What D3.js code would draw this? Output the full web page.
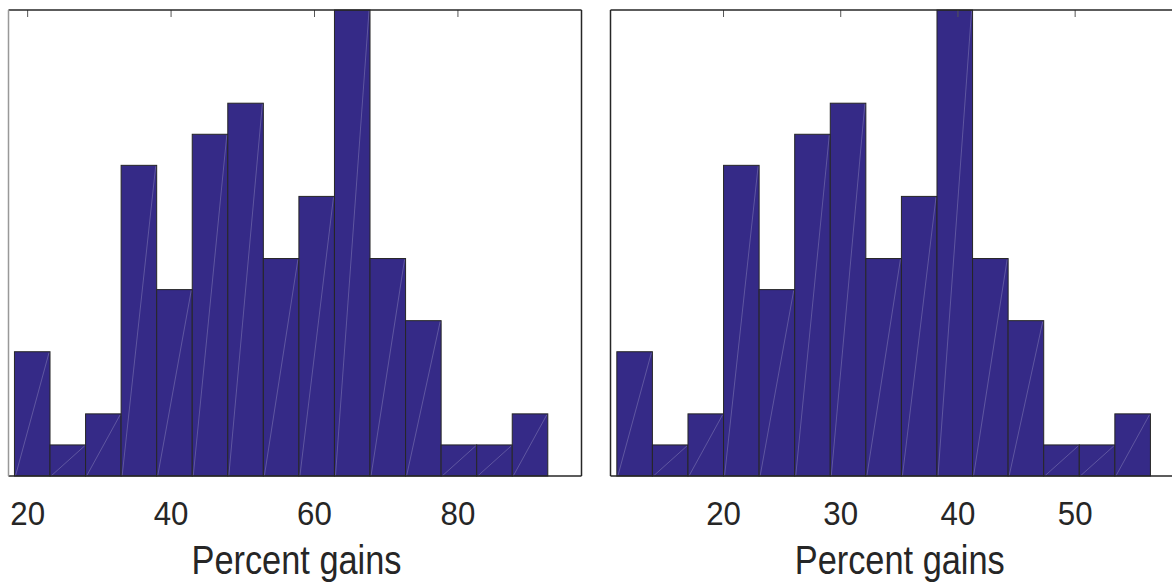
<!DOCTYPE html>
<html>
<head>
<meta charset="utf-8">
<script src="https://cdn.jsdelivr.net/npm/d3@7"></script>
<style>
  body { margin: 0; background: #fff; }
  svg { display: block; }
  text { font-family: "Liberation Sans", Arial, sans-serif; fill: #262626; }
</style>
</head>
<body>
<svg id="chart" width="1172" height="582"></svg>
<script>
// histogram counts (same shape in both panels)
const counts = [4, 1, 2, 10, 6, 11, 12, 7, 9, 15, 7, 5, 1, 1, 2];

// left panel: bin edges and ticks
const leftBinStart = 18.23;
const leftBinWidth = 4.958;
const leftDomain = [17.4, 97.3];
const leftTicks = [20, 40, 60, 80];

// right panel
const rightBinStart = 10.94;
const rightBinWidth = 3.035;
const rightDomain = [10.4, 59.5];
const rightTicks = [20, 30, 40, 50];

const xLabel = "Percent gains";

const svg = d3.select("#chart");
const plotTop = 10, plotBottom = 476;

function histPanel(x0, x1, domain, binStart, binWidth, ticks, leftColor) {
    const x = d3.scaleLinear().domain(domain).range([x0, x1]);
    const y = d3.scaleLinear().domain([0, 15]).range([plotBottom, plotTop]);
    const g = svg.append("g");

    const bins = counts.map(function(c, i) {
        return { a: binStart + i * binWidth, b: binStart + (i + 1) * binWidth, c: c };
    });

    // bottom ticks (sit under the bars)
    const xb = g.append("g")
        .attr("transform", "translate(0," + plotBottom + ")")
        .call(d3.axisBottom(x).tickValues(ticks).tickSizeInner(-7).tickSizeOuter(0).tickPadding(25));
    xb.select(".domain").remove();
    xb.selectAll("line").attr("stroke", "#262626");
    xb.selectAll("text").style("font-size", "34px").attr("fill", "#262626")
        .style("font-family", "'Liberation Sans', Arial, sans-serif")
        .attr("transform", "scale(0.92,1)");

    g.selectAll("rect.bar").data(bins).enter()
        .append("rect")
        .attr("class", "bar")
        .attr("x", d => x(d.a))
        .attr("y", d => y(d.c))
        .attr("width", d => x(d.b) - x(d.a))
        .attr("height", d => y(0) - y(d.c))
        .attr("fill", "#352a87")
        .attr("stroke", "#262626")
        .attr("stroke-width", 1);

    // faint diagonal seams in each bar
    g.selectAll("line.seam").data(bins).enter()
        .append("line")
        .attr("class", "seam")
        .attr("x1", d => x(d.a) + 1)
        .attr("y1", y(0))
        .attr("x2", d => x(d.b) - 1)
        .attr("y2", d => y(d.c) + 1)
        .attr("stroke", "rgba(255,255,255,0.3)")
        .attr("stroke-width", 0.7);

    // top ticks pointing inward
    const xt = g.append("g")
        .attr("transform", "translate(0," + plotTop + ")")
        .call(d3.axisTop(x).tickValues(ticks).tickSizeInner(-7).tickSizeOuter(0).tickFormat(""));
    xt.select(".domain").remove();
    xt.selectAll("line").attr("stroke", "#555");

    // box
    g.append("line").attr("x1", x0).attr("x2", x1).attr("y1", plotTop).attr("y2", plotTop)
        .attr("stroke", "#262626").attr("stroke-width", 1.5);
    g.append("line").attr("x1", x0).attr("x2", x1).attr("y1", plotBottom).attr("y2", plotBottom)
        .attr("stroke", "#262626").attr("stroke-width", 1.5);
    g.append("line").attr("x1", x0).attr("x2", x0).attr("y1", plotTop).attr("y2", plotBottom)
        .attr("stroke", leftColor).attr("stroke-width", 1.5);
    g.append("line").attr("x1", x1).attr("x2", x1).attr("y1", plotTop).attr("y2", plotBottom)
        .attr("stroke", "#262626").attr("stroke-width", 1.5);

    g.append("text")
        .attr("x", (x0 + x1) / 2 + 1.5)
        .attr("y", 574)
        .attr("text-anchor", "middle")
        .attr("textLength", 210)
        .attr("lengthAdjust", "spacingAndGlyphs")
        .style("font-size", "40px")
        .text(xLabel);
}

histPanel(8.5, 581.5, leftDomain, leftBinStart, leftBinWidth, leftTicks, "#999");
histPanel(610.5, 1186, rightDomain, rightBinStart, rightBinWidth, rightTicks, "#262626");
</script>
</body>
</html>
